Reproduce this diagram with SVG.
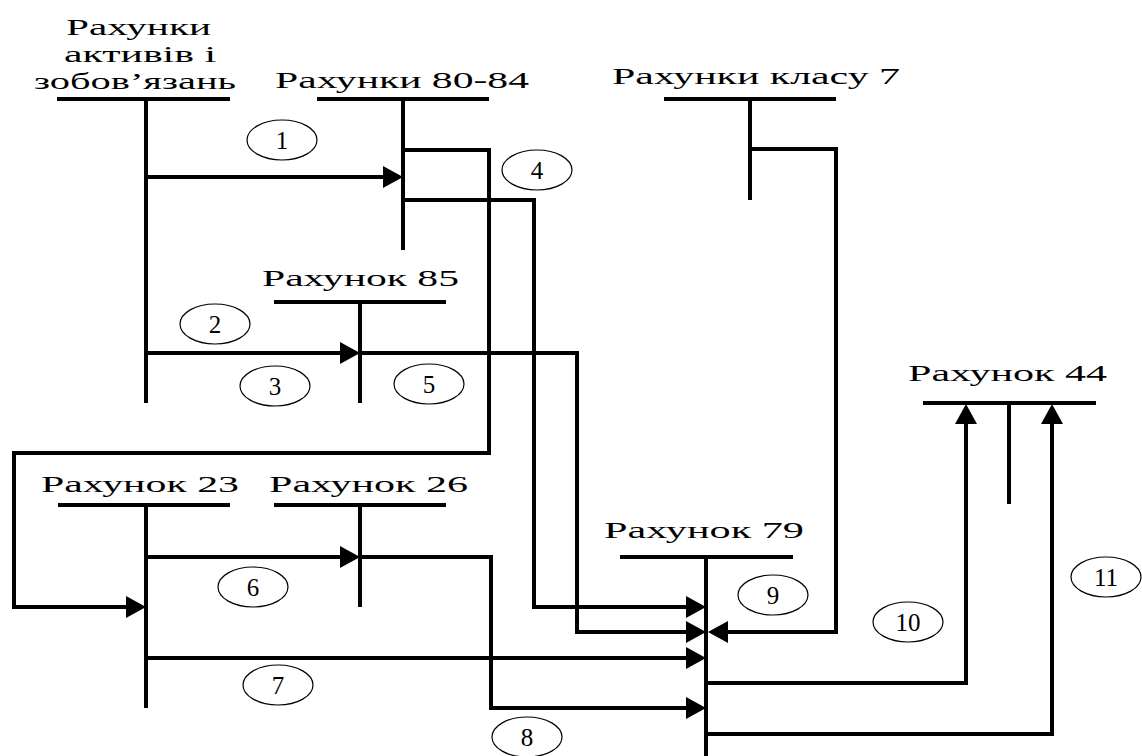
<svg xmlns="http://www.w3.org/2000/svg" width="1142" height="756" viewBox="0 0 1142 756">
<style>
  .bar{stroke:#000;stroke-width:4;fill:none}
  .ln{stroke:#000;stroke-width:4;fill:none;stroke-linejoin:miter;stroke-linecap:butt}
  .lbl{font-family:"Liberation Serif","DejaVu Serif","Times New Roman",serif;font-size:24px;fill:#000}
  .num{font-family:"Liberation Serif","DejaVu Serif","Times New Roman",serif;font-size:25px;fill:#000;text-anchor:middle}
  .circ{fill:none;stroke:#000;stroke-width:1.2}
</style>
<defs>
  <marker id="arr" viewBox="0 0 20 22" refX="10" refY="11" markerWidth="20" markerHeight="22" markerUnits="userSpaceOnUse" orient="auto">
    <path d="M0,0 L20,11 L0,22 z" fill="#000"/>
  </marker>
</defs>
<rect width="1142" height="756" fill="#fff"/>

<g id="node-assets">
  <text class="lbl" x="66" y="35" textLength="145" lengthAdjust="spacingAndGlyphs">Рахунки</text>
  <text class="lbl" x="64" y="62" textLength="152" lengthAdjust="spacingAndGlyphs">активів і</text>
  <text class="lbl" x="34" y="89" textLength="202" lengthAdjust="spacingAndGlyphs">зобов’язань</text>
  <line class="bar" x1="57" y1="99" x2="230" y2="99"/>
  <line class="bar" x1="146" y1="99" x2="146" y2="403"/>
</g>
<g id="node-80-84">
  <text class="lbl" x="275" y="88" textLength="254" lengthAdjust="spacingAndGlyphs">Рахунки 80-84</text>
  <line class="bar" x1="317" y1="99" x2="489" y2="99"/>
  <line class="bar" x1="403" y1="99" x2="403" y2="250"/>
</g>
<g id="node-class7">
  <text class="lbl" x="612" y="84" textLength="288" lengthAdjust="spacingAndGlyphs">Рахунки класу 7</text>
  <line class="bar" x1="664" y1="99" x2="836" y2="99"/>
  <line class="bar" x1="750" y1="99" x2="750" y2="200"/>
</g>
<g id="node-85">
  <text class="lbl" x="262" y="286" textLength="197" lengthAdjust="spacingAndGlyphs">Рахунок 85</text>
  <line class="bar" x1="274" y1="302" x2="446" y2="302"/>
  <line class="bar" x1="360" y1="302" x2="360" y2="403"/>
</g>
<g id="node-23">
  <text class="lbl" x="41" y="492" textLength="198" lengthAdjust="spacingAndGlyphs">Рахунок 23</text>
  <line class="bar" x1="58" y1="505" x2="230" y2="505"/>
  <line class="bar" x1="146" y1="505" x2="146" y2="708"/>
</g>
<g id="node-26">
  <text class="lbl" x="269" y="492" textLength="199" lengthAdjust="spacingAndGlyphs">Рахунок 26</text>
  <line class="bar" x1="274" y1="505" x2="446" y2="505"/>
  <line class="bar" x1="360" y1="505" x2="360" y2="607"/>
</g>
<g id="node-79">
  <text class="lbl" x="604" y="538" textLength="200" lengthAdjust="spacingAndGlyphs">Рахунок 79</text>
  <line class="bar" x1="620" y1="557" x2="793" y2="557"/>
  <line class="bar" x1="706" y1="557" x2="706" y2="756"/>
</g>
<g id="node-44">
  <text class="lbl" x="908" y="381" textLength="199" lengthAdjust="spacingAndGlyphs">Рахунок 44</text>
  <line class="bar" x1="923" y1="403" x2="1096" y2="403"/>
  <line class="bar" x1="1009" y1="403" x2="1009" y2="504"/>
</g>

<g id="connectors">
  <path class="ln" d="M146,177 H393" marker-end="url(#arr)"/>
  <path class="ln" d="M146,353 H350" marker-end="url(#arr)"/>
  <path class="ln" d="M360,353 H577 V632 H696" marker-end="url(#arr)"/>
  <path class="ln" d="M403,150 H489 V453 H14 V607 H136" marker-end="url(#arr)"/>
  <path class="ln" d="M403,200 H534 V607 H696" marker-end="url(#arr)"/>
  <path class="ln" d="M750,149 H836 V632 H718" marker-end="url(#arr)"/>
  <path class="ln" d="M146,557 H350" marker-end="url(#arr)"/>
  <path class="ln" d="M360,557 H491 V708 H696" marker-end="url(#arr)"/>
  <path class="ln" d="M146,658 H696" marker-end="url(#arr)"/>
  <path class="ln" d="M706,683 H966 V414" marker-end="url(#arr)"/>
  <path class="ln" d="M706,734 H1052 V414" marker-end="url(#arr)"/>
</g>

<g id="labels">
  <ellipse class="circ" cx="282" cy="140" rx="35" ry="20"/><text class="num" x="282" y="149">1</text>
  <ellipse class="circ" cx="215" cy="324" rx="35" ry="20"/><text class="num" x="215" y="333">2</text>
  <ellipse class="circ" cx="275" cy="386" rx="35" ry="20"/><text class="num" x="275" y="395">3</text>
  <ellipse class="circ" cx="537" cy="170" rx="35" ry="20"/><text class="num" x="537" y="179">4</text>
  <ellipse class="circ" cx="429" cy="384" rx="35" ry="20"/><text class="num" x="429" y="393">5</text>
  <ellipse class="circ" cx="253" cy="587" rx="35" ry="20"/><text class="num" x="253" y="596">6</text>
  <ellipse class="circ" cx="278" cy="685" rx="35" ry="20"/><text class="num" x="278" y="694">7</text>
  <ellipse class="circ" cx="527" cy="737" rx="35" ry="20"/><text class="num" x="527" y="746">8</text>
  <ellipse class="circ" cx="773" cy="595" rx="35" ry="20"/><text class="num" x="773" y="604">9</text>
  <ellipse class="circ" cx="908" cy="622" rx="35" ry="20"/><text class="num" x="908" y="631">10</text>
  <ellipse class="circ" cx="1106" cy="577" rx="35" ry="20"/><text class="num" x="1106" y="586">11</text>
</g>
</svg>
